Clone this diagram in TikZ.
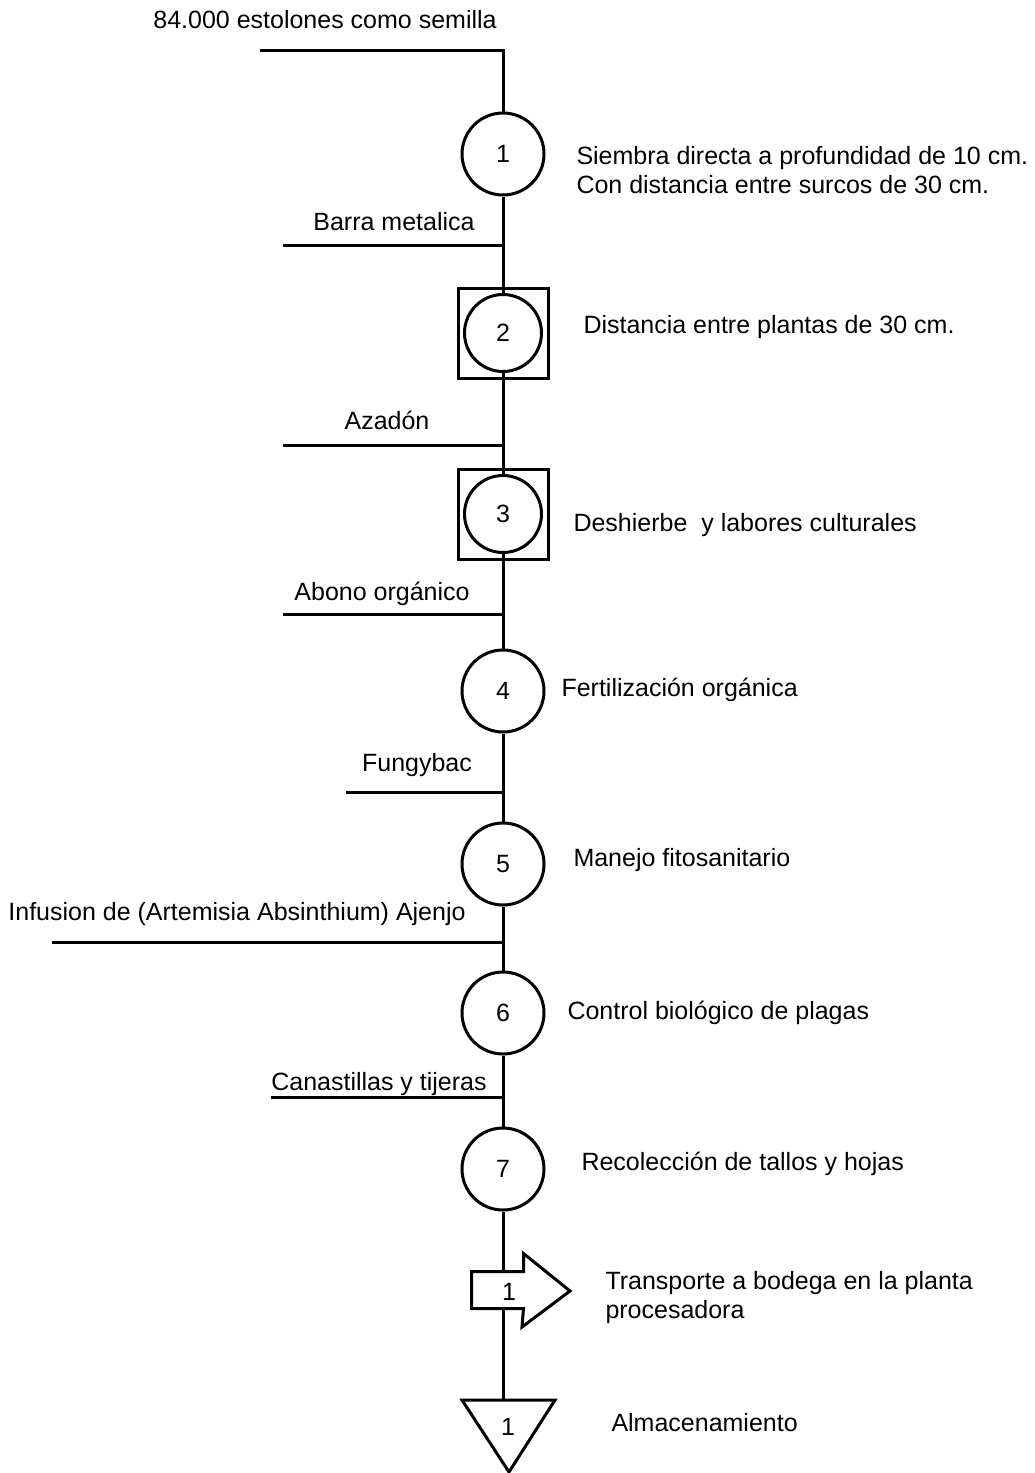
\documentclass[tikz,border=0pt]{standalone}
\usepackage{fontspec}
\setmainfont{Liberation Sans}
\usepackage{tikz}
\usetikzlibrary{arrows}

\begin{document}
\begin{tikzpicture}[x=0.5pt,y=-0.5pt,-,line width=1.5pt,
  main node/.style={circle,draw,minimum size=41pt,inner sep=0pt,font=\fontsize{12.5}{14.5}\selectfont},
  sub node/.style={main node,minimum size=38.5pt},
  box node/.style={rectangle,draw,minimum size=45pt,inner sep=0pt},
  body node/.style={rectangle,minimum width=24.5pt,minimum height=17pt,inner sep=0pt},
  in node/.style={inner sep=0pt,font=\fontsize{12.5}{14.5}\selectfont},
  op node/.style={inner sep=0pt,anchor=west,align=left,font=\fontsize{12.5}{14.5}\selectfont}]
  \useasboundingbox (0,0) rectangle (1034,1473);

  \node[main node] (1) at (503,154) {1};
  \node[box node]  (b2) at (503,333) {};
  \node[sub node]  (2) at (503,333) {2};
  \node[box node]  (b3) at (503,514) {};
  \node[sub node]  (3) at (503,514) {3};
  \node[main node] (4) at (503,691) {4};
  \node[main node] (5) at (503,864) {5};
  \node[main node] (6) at (503,1013) {6};
  \node[main node] (7) at (503,1169) {7};
  \node[body node] (8) at (497.5,1290) {};
  \node[in node]   at (509,1292) {1};
  \node[in node]   (9) at (508,1427) {1};

  % transporte y almacenamiento
  \draw (8.north west) -- (8.north east) -- ++(0,-18) -- (570,1291)
    -- (522,1327) -- (8.south east) -- (8.south west) -- cycle;
  \coordinate (t9) at (503,1400);
  \draw (462,1400) -- (555,1400) -- (509,1472) -- cycle;

  % entradas
  \coordinate (e1) at (260,50);
  \coordinate (e2) at (283,245);
  \coordinate (e3) at (283,445);
  \coordinate (e4) at (283,614);
  \coordinate (e5) at (346,792);
  \coordinate (e6) at (52,942);
  \coordinate (e7) at (271,1097);
  \draw (e1) -- (e1 -| 1) -- (1);
  \foreach \i in {2,...,7}
    \draw (e\i) -- (e\i -| 1);

  \path
    (1) edge (2)
    (2) edge (3)
    (3) edge (4)
    (4) edge (5)
    (5) edge (6)
    (6) edge (7)
    (7) edge (7 |- 8.north)
    (8.south -| 7) edge (t9);

  \node[in node] at (325,20) {84.000 estolones como semilla};
  \node[in node] at (394,222) {Barra metalica};
  \node[in node] at (387,420) {Azadón};
  \node[in node] at (382,594) {Abono orgánico};
  \node[in node] at (417,765) {Fungybac};
  \node[in node] at (237,914) {Infusion de (Artemisia Absinthium) Ajenjo};
  \node[in node] at (379,1084) {Canastillas y tijeras};

  \node[op node] at (575,170) {Siembra directa a profundidad de 10 cm.\\Con distancia entre surcos de 30 cm.};
  \node[op node] at (582,327) {Distancia entre plantas de 30 cm.};
  \node[op node] at (572,525) {Deshierbe\ \ y labores culturales};
  \node[op node] at (560,690) {Fertilización orgánica};
  \node[op node] at (572,860) {Manejo fitosanitario};
  \node[op node] at (566,1013) {Control biológico de plagas};
  \node[op node] at (580,1164) {Recolección de tallos y hojas};
  \node[op node] at (604,1298) {Transporte a bodega en la planta\\procesadora};
  \node[op node] at (610,1423) {Almacenamiento};
\end{tikzpicture}
\end{document}
